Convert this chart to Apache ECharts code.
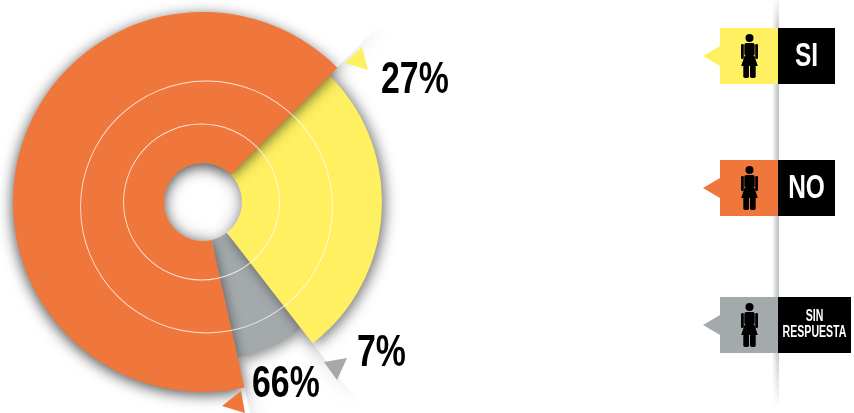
<!DOCTYPE html>
<html><head><meta charset="utf-8">
<style>html,body{margin:0;padding:0;background:#fff}#c{width:854px;height:413px}</style>
<script src="https://cdn.jsdelivr.net/npm/echarts@6/dist/echarts.min.js"></script>
</head><body><div id="c"></div>
<script>
var categories = ['SI', 'SIN RESPUESTA', 'NO'];
var values = [27, 7, 66];
var colors = ['#FFF061', '#A4A9AC', '#F0773C'];
var outerRadius = [179, 159, 190];
var percentLabels = ['27%', '7%', '66%'];
var legendLines = [['SI'], ['SIN', 'RESPUESTA'], ['NO']];

var CX = 203, CY = 202, HOLE = 39;
var FONT = '"Liberation Sans","Arial",sans-serif';

function sliceSeries(idx, fill, r, shadow, z) {
  return {
    type: 'pie', center: [CX, CY], radius: [HOLE, r], startAngle: 45, clockwise: true,
    silent: true, animation: false, z: z, label: {show: false}, labelLine: {show: false},
    emphasis: {disabled: true},
    data: categories.map(function (c, i) {
      return {
        name: c, value: values[i],
        itemStyle: i === idx
          ? Object.assign({color: fill, borderWidth: 0}, shadow || {})
          : {color: 'rgba(0,0,0,0)', borderWidth: 0}
      };
    })
  };
}
function ring(cx, cy, r, z) {
  return {
    type: 'pie', center: [cx, cy], radius: [r, r + 0.9], silent: true, animation: false, z: z,
    label: {show: false}, labelLine: {show: false}, emphasis: {disabled: true},
    data: [{value: 1, itemStyle: {color: 'rgba(255,255,255,0.8)'}}]
  };
}
var bandShadow = {shadowColor: 'rgba(0,0,0,0.2)', shadowBlur: 20};
var series = [
  sliceSeries(1, '#fff', 262, null, 1),
  sliceSeries(0, '#fff', 262, bandShadow, 2),
  sliceSeries(2, '#fff', 262, bandShadow, 3),
  {
    type: 'pie', center: [CX, CY], radius: [150, 330], silent: true, animation: false, z: 4,
    label: {show: false}, labelLine: {show: false}, emphasis: {disabled: true},
    data: [{value: 1, itemStyle: {color: {type: 'radial', x: 0.5, y: 0.5, r: 0.5, colorStops: [
      {offset: 0, color: 'rgba(255,255,255,0)'},
      {offset: 0.58, color: 'rgba(255,255,255,0)'},
      {offset: 0.77, color: 'rgba(255,255,255,1)'},
      {offset: 1, color: 'rgba(255,255,255,1)'}
    ]}}}]
  },
  sliceSeries(1, colors[1], outerRadius[1], {shadowColor: 'rgba(0,0,0,0.5)', shadowBlur: 14, shadowOffsetX: 2, shadowOffsetY: 3}, 5),
  sliceSeries(0, colors[0], outerRadius[0], {shadowColor: 'rgba(0,0,0,0.55)', shadowBlur: 14, shadowOffsetX: 3, shadowOffsetY: 2}, 6),
  sliceSeries(2, colors[2], outerRadius[2], {shadowColor: 'rgba(0,0,0,0.65)', shadowBlur: 14, shadowOffsetX: -1, shadowOffsetY: 3}, 7),
  ring(201.5, 202, 77.5, 8), ring(206.5, 207, 125.5, 8)
];

function poly(pts, fill) {
  return {type: 'polygon', z: 20, shape: {points: pts}, style: {fill: fill}};
}
function pct(text, x, y, sx) {
  return {type: 'text', z: 21, x: x, y: y, scaleX: sx, style: {
    text: text, fill: '#000', font: 'bold 44px ' + FONT, textAlign: 'left', textVerticalAlign: 'middle'
  }};
}
function figure(cx, top) {
  var c = '#000';
  function r(x, y, w, h, rad) {
    return {type: 'rect', z: 22, shape: {x: x, y: y, width: w, height: h, r: rad || 0}, style: {fill: c}};
  }
  return [
    {type: 'circle', z: 22, shape: {cx: cx, cy: top + 4, r: 4}, style: {fill: c}},
    r(cx - 5.2, top + 9, 10.4, 13, 2),
    r(cx - 8.5, top + 10, 2.8, 15, 1.2),
    r(cx + 5.7, top + 10, 2.8, 15, 1.2),
    poly([[cx - 5, top + 22], [cx + 5, top + 22], [cx + 8.3, top + 32], [cx - 8.3, top + 32]], c),
    r(cx - 6.2, top + 31, 5.7, 13, 1.8),
    r(cx + 0.5, top + 31, 5.7, 13, 1.8)
  ];
}
function label(text, x, y, size, sx) {
  return {type: 'text', z: 22, x: x, y: y, scaleX: sx, style: {
    text: text, fill: '#fff', font: 'bold ' + size + 'px ' + FONT, textAlign: 'center', textVerticalAlign: 'middle'}};
}
function legendItem(idx, top, blackRight, color) {
  var h = 56, lines = legendLines[idx], out = [
    {type: 'rect', z: 20, shape: {x: 720, y: top, width: 58, height: h}, style: {fill: color}},
    {type: 'rect', z: 20, shape: {x: 778, y: top, width: blackRight - 778, height: h}, style: {fill: '#000'}},
    poly([[703, top + 28], [720, top + 18], [720, top + 38]], color)
  ].concat(figure(749.5, top + 6));
  var mid = (778 + blackRight) / 2;
  if (lines.length === 1) {
    out.push(label(lines[0], mid, top + 29, 34, 0.72));
  } else {
    out.push(label(lines[0], mid, top + 20, 16, 0.66));
    out.push(label(lines[1], mid, top + 36, 16, 0.66));
  }
  return out;
}
var graphics = [
  {type: 'rect', z: 15, shape: {x: 772, y: 0, width: 7, height: 408}, style: {fill: {
    type: 'linear', x: 0, y: 0, x2: 1, y2: 0, colorStops: [
      {offset: 0, color: 'rgba(170,172,176,0)'},
      {offset: 0.85, color: 'rgba(170,172,176,0.7)'},
      {offset: 1, color: 'rgba(170,172,176,0.7)'}]}}},
  {type: 'rect', z: 16, shape: {x: 770, y: 0, width: 10, height: 408}, style: {fill: {
    type: 'linear', x: 0, y: 0, x2: 0, y2: 1, colorStops: [
      {offset: 0, color: 'rgba(255,255,255,0.9)'},
      {offset: 0.08, color: 'rgba(255,255,255,0)'},
      {offset: 0.85, color: 'rgba(255,255,255,0)'},
      {offset: 1, color: 'rgba(255,255,255,1)'}]}}},
  poly([[345, 63], [362, 47], [368, 70]], colors[0]),
  poly([[324, 362], [347, 358], [337, 380]], colors[1]),
  poly([[222, 406], [241, 391], [245, 413]], colors[2]),
  pct(percentLabels[0], 381, 81, 0.77),
  pct(percentLabels[1], 357, 354, 0.77),
  pct(percentLabels[2], 252, 385, 0.77)
].concat(legendItem(0, 28, 835, colors[0]), legendItem(2, 160, 835, colors[2]), legendItem(1, 297, 851, colors[1]));

var chart = echarts.init(document.getElementById('c'), null, {renderer: 'canvas'});
chart.setOption({animation: false, backgroundColor: '#fff', series: series, graphic: graphics});
</script></body></html>
